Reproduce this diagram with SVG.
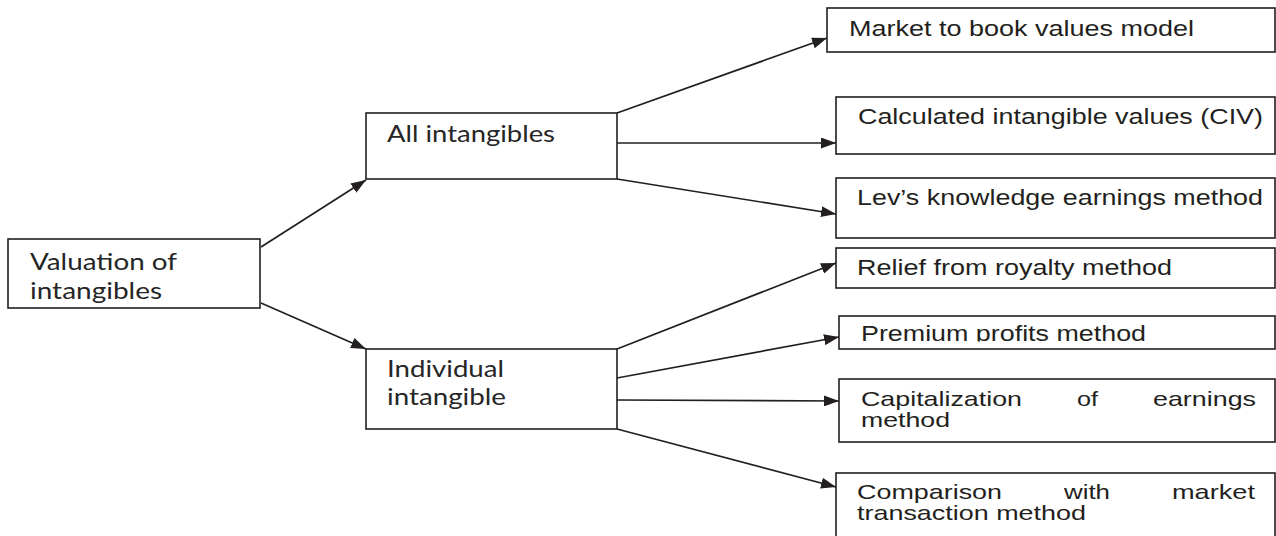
<svg xmlns="http://www.w3.org/2000/svg" width="1276" height="536" viewBox="0 0 1276 536">
  <style>
    .box { fill: #ffffff; stroke: #231f20; stroke-width: 1.6; }
    .edge { fill: none; stroke: #231f20; stroke-width: 1.7; marker-end: url(#arrow); }
    .lbl { font-family: Lato, "Open Sans", "DejaVu Sans", sans-serif; font-size: 23px; fill: #262626; }
    .mth { font-family: "Liberation Sans", Arial, sans-serif; font-size: 22px; fill: #231f20; }
    .mth2 { font-family: "Liberation Sans", Arial, sans-serif; font-size: 21px; fill: #231f20; }
  </style>
  <defs>
    <marker id="arrow" markerUnits="userSpaceOnUse" markerWidth="15" markerHeight="11" refX="15" refY="5.5" orient="auto">
      <path d="M0,0 L15,5.5 L0,11 z" fill="#231f20"/>
    </marker>
    <clipPath id="clipPremium">
      <rect x="839" y="316" width="436" height="25.5"/>
    </clipPath>
  </defs>

  <rect width="1276" height="536" fill="#ffffff"/>

  <!-- connectors -->
  <g id="connectors">
    <line class="edge" x1="261" y1="247" x2="366" y2="180"/>
    <line class="edge" x1="261" y1="303" x2="366" y2="349"/>
    <line class="edge" x1="617" y1="113" x2="827" y2="38"/>
    <line class="edge" x1="617" y1="143" x2="836" y2="143"/>
    <line class="edge" x1="617" y1="179" x2="836" y2="214"/>
    <line class="edge" x1="617" y1="349" x2="836" y2="263"/>
    <line class="edge" x1="617" y1="378" x2="839" y2="337"/>
    <line class="edge" x1="617" y1="400" x2="839" y2="401"/>
    <line class="edge" x1="617" y1="429" x2="836" y2="487"/>
  </g>

  <!-- root -->
  <g id="valuation">
    <rect class="box" x="8" y="239" width="252" height="69"/>
    <text class="lbl" x="30" y="270" textLength="147" lengthAdjust="spacingAndGlyphs">Valuation of</text>
    <text class="lbl" x="30" y="299" textLength="132" lengthAdjust="spacingAndGlyphs">intangibles</text>
  </g>

  <!-- second level -->
  <g id="all-intangibles">
    <rect class="box" x="366" y="113" width="251" height="66"/>
    <text class="lbl" x="387" y="142" textLength="168" lengthAdjust="spacingAndGlyphs">All intangibles</text>
  </g>
  <g id="individual-intangible">
    <rect class="box" x="366" y="349" width="251" height="80"/>
    <text class="lbl" x="387" y="377" textLength="117" lengthAdjust="spacingAndGlyphs">Individual</text>
    <text class="lbl" x="387" y="405" textLength="119" lengthAdjust="spacingAndGlyphs">intangible</text>
  </g>

  <!-- methods -->
  <g id="market-to-book">
    <rect class="box" x="827" y="8" width="448" height="44"/>
    <text class="mth" x="849" y="36" textLength="345" lengthAdjust="spacingAndGlyphs">Market to book values model</text>
  </g>
  <g id="civ">
    <rect class="box" x="836" y="97" width="439" height="57"/>
    <text class="mth" x="858" y="124" textLength="405" lengthAdjust="spacingAndGlyphs">Calculated intangible values (CIV)</text>
  </g>
  <g id="lev">
    <rect class="box" x="836" y="178" width="439" height="60"/>
    <text class="mth" x="857" y="205" textLength="406" lengthAdjust="spacingAndGlyphs">Lev’s knowledge earnings method</text>
  </g>
  <g id="relief-from-royalty">
    <rect class="box" x="836" y="248" width="439" height="40"/>
    <text class="mth" x="857" y="275" textLength="315" lengthAdjust="spacingAndGlyphs">Relief from royalty method</text>
  </g>
  <g id="premium-profits">
    <rect class="box" x="839" y="316" width="436" height="33"/>
    <text class="mth" x="861" y="341" textLength="285" lengthAdjust="spacingAndGlyphs" clip-path="url(#clipPremium)">Premium profits method</text>
  </g>
  <g id="capitalization">
    <rect class="box" x="839" y="379" width="436" height="63"/>
    <text class="mth2" y="406">
      <tspan x="861" textLength="161" lengthAdjust="spacingAndGlyphs">Capitalization</tspan>
      <tspan x="1077" textLength="21" lengthAdjust="spacingAndGlyphs">of</tspan>
      <tspan x="1153" textLength="103" lengthAdjust="spacingAndGlyphs">earnings</tspan>
    </text>
    <text class="mth2" x="861" y="427" textLength="89" lengthAdjust="spacingAndGlyphs">method</text>
  </g>
  <g id="comparison">
    <rect class="box" x="836" y="473" width="439" height="70"/>
    <text class="mth2" y="499">
      <tspan x="857" textLength="145" lengthAdjust="spacingAndGlyphs">Comparison</tspan>
      <tspan x="1064" textLength="46" lengthAdjust="spacingAndGlyphs">with</tspan>
      <tspan x="1172" textLength="83" lengthAdjust="spacingAndGlyphs">market</tspan>
    </text>
    <text class="mth2" x="857" y="520" textLength="229" lengthAdjust="spacingAndGlyphs">transaction method</text>
  </g>
</svg>
